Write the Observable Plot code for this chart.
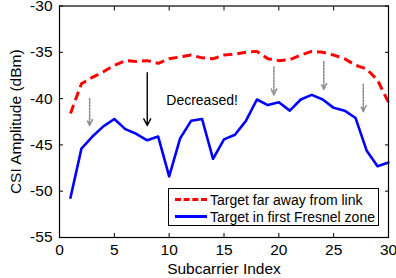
<!DOCTYPE html>
<html>
<head>
<meta charset="utf-8">
<script src="https://cdn.jsdelivr.net/npm/d3@7"></script>
<script src="https://cdn.jsdelivr.net/npm/@observablehq/plot@0.6"></script>
<style>
  html, body { margin: 0; padding: 0; background: #fff; }
  #wrap { position: relative; width: 396px; height: 278px; font-family: "Liberation Sans", Arial, sans-serif; }
  #legend { position: absolute; left: 168px; top: 188px; width: 211px; height: 38px; border: 1.3px solid #000; background: #fff; box-sizing: border-box; font-size: 14px; color: #000; }
  .row { position: absolute; left: 6px; height: 17px; display: flex; align-items: center; white-space: nowrap; }
  .sw { width: 32px; height: 0; margin-right: 3px; }
</style>
</head>
<body>
<div id="wrap"></div>
<script>
const subcarriers = d3.range(1, 31);
const farAway = [-41.6, -38.4, -37.7, -37.1, -36.4, -35.9, -36.0, -35.9, -36.2, -35.7,
                 -35.5, -35.3, -35.6, -35.7, -35.3, -35.2, -35.0, -34.9, -35.7, -35.9,
                 -35.8, -35.3, -34.9, -35.0, -35.3, -35.7, -36.4, -36.8, -38.0, -40.4];
const fresnel = [-50.7, -45.4, -44.1, -43.0, -42.2, -43.3, -43.8, -44.5, -44.1, -48.4,
                 -44.3, -42.4, -42.2, -46.5, -44.4, -43.9, -42.4, -40.1, -40.7, -40.4,
                 -41.3, -40.1, -39.6, -40.1, -41.0, -41.3, -42.1, -45.6, -47.3, -46.9];
const seriesNames = ["Target far away from link", "Target in first Fresnel zone"];
const xTicks = [0, 5, 10, 15, 20, 25, 30];
const yTicks = [-55, -50, -45, -40, -35, -30];
const grayArrowX = [2.75, 19.55, 24.1, 27.7];
const grayArrowFrom = [-40.0, -36.6, -36.0, -38.45];
const grayArrowTo = [-42.9, -39.6, -39.0, -41.4];
const blackArrowX = [8];
const blackArrowFrom = [-37.2];
const blackArrowTo = [-42.9];
const annotation = ["Decreased!"];
const annotationX = [13];
const annotationY = [-40.2];

const redData = subcarriers.map((x, i) => ({x, y: farAway[i]}));
const blueData = subcarriers.map((x, i) => ({x, y: fresnel[i]}));
const grayArrows = grayArrowX.map((x, i) => ({x, y1: grayArrowFrom[i], y2: grayArrowTo[i]}));
const blackArrows = blackArrowX.map((x, i) => ({x, y1: blackArrowFrom[i], y2: blackArrowTo[i]}));
const notes = annotation.map((t, i) => ({t, x: annotationX[i], y: annotationY[i]}));

const chart = Plot.plot({
  width: 396,
  height: 278,
  marginLeft: 59,
  marginRight: 8,
  marginTop: 5.5,
  marginBottom: 41,
  style: { fontFamily: "Liberation Sans, Arial, sans-serif", fontSize: "15.5px", color: "#000", background: "#fff" },
  x: { domain: [0, 30] },
  y: { domain: [-55, -30] },
  marks: [
    Plot.axisX({ticks: xTicks, anchor: "bottom", tickSize: -4, tickPadding: 10, tickFormat: d => String(d), label: "Subcarrier Index", labelAnchor: "center", labelOffset: 36, labelArrow: "none", fontSize: 15.5}),
    Plot.axisX({ticks: xTicks, anchor: "top", tickSize: -4, fill: "none", label: null}),
    Plot.axisY({ticks: yTicks, anchor: "left", tickSize: -4, tickPadding: 11, tickFormat: d => String(d), label: "CSI Amplitude (dBm)", labelAnchor: "center", labelOffset: 50, labelArrow: "none", fontSize: 15.5}),
    Plot.axisY({ticks: yTicks, anchor: "right", tickSize: -4, fill: "none", label: null}),
    Plot.line(redData, {x: "x", y: "y", stroke: "#ff0000", strokeWidth: 3, strokeDasharray: "9,5", strokeLinecap: "butt"}),
    Plot.line(blueData, {x: "x", y: "y", stroke: "#0000ff", strokeWidth: 2.6}),
    Plot.arrow(grayArrows, {x1: "x", x2: "x", y1: "y1", y2: "y2", stroke: "#8a8a8a", strokeWidth: 1.6, strokeDasharray: "1.6,1.6", headLength: 6, headAngle: 50}),
    Plot.arrow(blackArrows, {x1: "x", x2: "x", y1: "y1", y2: "y2", stroke: "#000", strokeWidth: 1.4, headLength: 8, headAngle: 55}),
    Plot.text(notes, {x: "x", y: "y", text: "t", fontSize: 14, fill: "#000"}),
    Plot.frame({stroke: "#000", strokeWidth: 1.2})
  ]
});

const wrap = document.getElementById("wrap");
wrap.appendChild(chart);
const legend = document.createElement("div");
legend.id = "legend";
const colors = ["#ff0000", "#0000ff"];
const dashes = ["dashed", "solid"];
seriesNames.forEach((name, i) => {
  const row = document.createElement("div");
  row.className = "row";
  row.style.top = (2 + i * 17) + "px";
  const sw = document.createElement("div");
  sw.className = "sw";
  sw.style.borderTop = "3px " + dashes[i] + " " + colors[i];
  row.appendChild(sw);
  const t = document.createElement("span");
  t.textContent = name;
  row.appendChild(t);
  legend.appendChild(row);
});
wrap.appendChild(legend);
</script>
</body>
</html>
